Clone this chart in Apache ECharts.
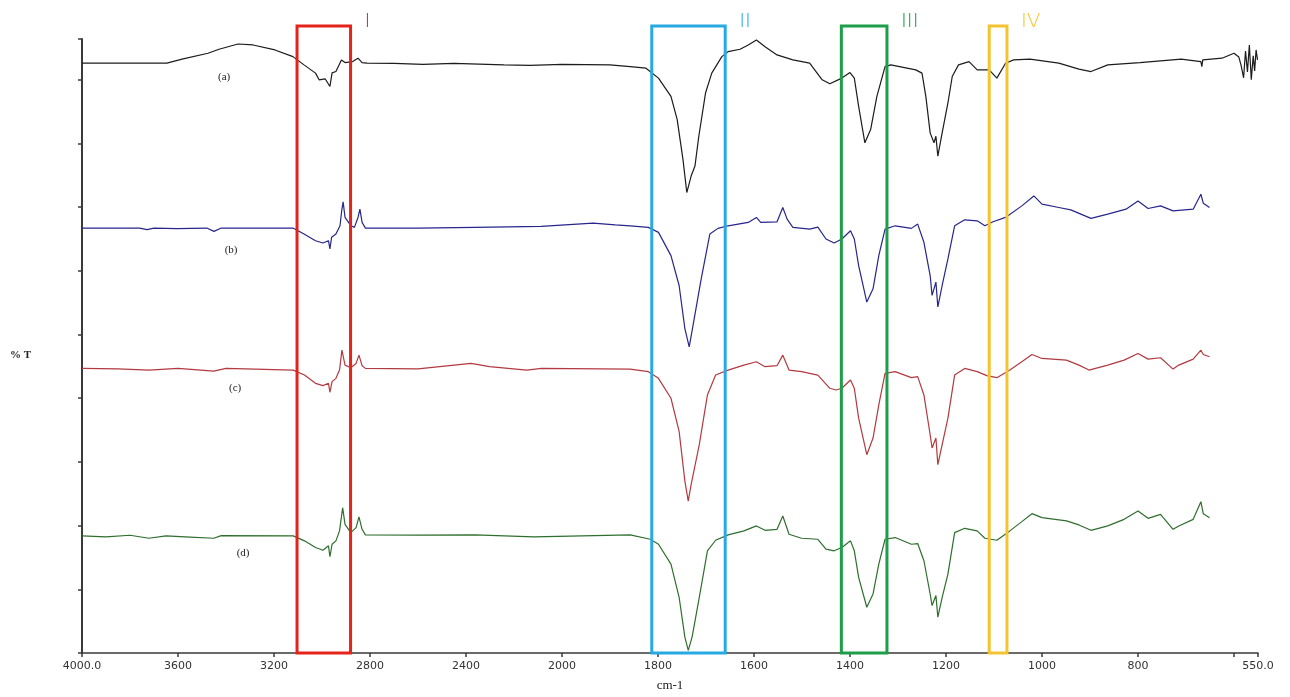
<!DOCTYPE html>
<html>
<head>
<meta charset="utf-8">
<script src="https://cdn.jsdelivr.net/npm/echarts@6/dist/echarts.min.js"></script>
<style>
html,body{margin:0;padding:0;background:#fff;}
#c{width:1290px;height:697px;}
</style>
</head>
<body>
<div id="c"></div>
<script>
// ---- data: [wavenumber (cm-1), %T (arbitrary offset units)] ----
const specA = [[4000,592.7],[3646,592.7],[3583,596.7],[3475,602.7],[3429,606.7],[3350,612],[3287,611],[3196,606],[3121,599.3],[3075,591],[3027,582.7],[3012,576],[2987,577],[2967,569.3],[2958,583],[2942,584.3],[2919,596],[2904,593.3],[2872,594.3],[2850,597.7],[2833,593.3],[2812,592.7],[2700,592.5],[2579,591.5],[2450,592.5],[2242,591],[2133,590.5],[2000,591.5],[1900,591],[1858,589.3],[1825,587.7],[1799,577.7],[1773,559.3],[1760,536],[1748,496],[1740,462.7],[1731,479.3],[1723,489.3],[1715,519.3],[1701,562.7],[1688,582.7],[1667,599.3],[1654,604.3],[1629,606.7],[1612,611],[1595,616],[1577,609.3],[1552,601],[1519,596],[1484,592.7],[1458,576],[1442,572],[1417,577.7],[1400,583.3],[1391,577.7],[1382,549.3],[1369,512.7],[1357,526],[1344,559.3],[1327,589.3],[1315,591],[1263,586],[1250,582.7],[1242,559.3],[1233,522.7],[1225,512.7],[1221,519.3],[1217,499.3],[1208,522.7],[1196,552.7],[1187,579.3],[1174,591],[1152,594.3],[1135,586],[1110,586],[1094,577.7],[1076,592.7],[1059,596],[1025,596.7],[965,592.7],[923,586.7],[898,584.3],[863,591],[796,593.3],[710,596.7],[669,594.3],[667,589.3],[665,596],[625,597.7],[600,602.7],[590,599],[585,590],[580,578],[576,605],[572,584],[568,611],[564,576],[560,600],[557,585],[554,606],[551,596]];
const specB = [[4000,427],[3760,427],[3729,425.5],[3700,427],[3604,426.5],[3480,427],[3450,423.7],[3420,427],[3121,427],[3075,421],[3027,414.3],[2996,412],[2973,414.3],[2967,406],[2960,417.7],[2942,421],[2925,429.3],[2918,444.3],[2912,453.3],[2904,437.7],[2879,429.3],[2865,427.7],[2850,437.7],[2842,446],[2833,432.7],[2819,427],[2600,427],[2362,427.7],[2087,428.7],[1935,432],[1889,430.3],[1858,429.3],[1820,427.7],[1799,422.7],[1773,399.3],[1756,369.3],[1744,326],[1735,307.7],[1727,329.3],[1710,376],[1692,421],[1675,426.7],[1654,429.3],[1612,432.7],[1595,437.7],[1586,432.7],[1552,433.3],[1540,447.7],[1531,436],[1519,427.7],[1484,426],[1467,428],[1450,416],[1433,412],[1417,416],[1399,424.3],[1391,416],[1382,389.3],[1365,352.7],[1352,366],[1340,399.3],[1327,426],[1306,429.3],[1272,426.7],[1259,431],[1246,412.7],[1233,379.3],[1229,359.3],[1221,372.7],[1217,347.7],[1208,369.3],[1196,396],[1182,429.3],[1161,435.3],[1135,434.3],[1119,429.3],[1102,433.3],[1076,437.7],[1042,449.3],[1017,459.3],[1000,451],[965,447.7],[940,445.3],[898,436.7],[863,441],[825,446],[800,454.3],[779,446.7],[753,449.3],[727,444.3],[685,446],[669,461],[664,452],[651,447.7]];
const specC = [[4000,286],[3850,285.5],[3721,284.3],[3600,286],[3451,283.3],[3400,286],[3120,284.3],[3073,279.3],[3027,271],[2996,268.7],[2973,271],[2967,262],[2958,272.7],[2942,276],[2927,284.3],[2917,304.3],[2904,289.3],[2880,286.7],[2858,291],[2846,299.3],[2833,288.7],[2819,286],[2600,285.5],[2379,291],[2302,287.7],[2147,284.3],[2085,286],[1858,285.3],[1820,282.7],[1799,276],[1773,256],[1756,222.7],[1744,172.7],[1737,152.7],[1731,169.3],[1714,209.3],[1697,259.3],[1680,279.3],[1654,284.3],[1621,289.3],[1595,292.7],[1577,287.7],[1552,288.7],[1540,299.3],[1527,284.3],[1501,282.7],[1467,279.3],[1442,266],[1429,264.3],[1417,266],[1399,274.3],[1391,266],[1382,236],[1365,199.3],[1352,216],[1340,249.3],[1327,281],[1306,282.7],[1272,276.7],[1259,277.7],[1246,259.3],[1233,219.3],[1229,206],[1221,216],[1217,189.3],[1208,209.3],[1196,236],[1182,279.3],[1161,286],[1135,282.7],[1115,278.7],[1094,276.7],[1067,284.3],[1042,292.7],[1021,300],[1000,296],[949,294.3],[923,289.3],[902,284.3],[863,289.3],[829,294.3],[800,301],[779,295.3],[753,296.7],[727,285.3],[715,289.3],[685,295.3],[669,304.3],[664,300],[651,297.7]];
const specD = [[4000,117.7],[3900,116.7],[3800,118.3],[3721,115.3],[3650,117.7],[3550,116.5],[3451,115.3],[3420,118],[3120,117.7],[3073,112.7],[3027,106],[2996,103.3],[2973,107.7],[2967,96.7],[2958,109.3],[2942,112.7],[2927,122.7],[2914,146],[2904,129.3],[2880,121],[2858,126],[2846,136.7],[2833,124.3],[2819,118.7],[2600,118.5],[2362,118.7],[2117,116.7],[1858,118.7],[1816,114.3],[1799,109.3],[1773,89.3],[1756,56],[1744,16],[1737,2.7],[1729,16],[1714,56],[1697,102.7],[1680,113.3],[1654,118.7],[1621,122.7],[1595,127.7],[1577,123.3],[1552,124.3],[1540,137.7],[1527,119.3],[1501,115.3],[1467,114.3],[1450,104.3],[1433,102.7],[1417,106],[1399,112.7],[1391,102.7],[1382,76],[1365,46],[1352,59.3],[1340,89.3],[1327,114.3],[1306,116],[1272,109.3],[1259,110],[1246,92.7],[1233,59.3],[1229,47.7],[1221,57.7],[1217,36],[1208,56],[1196,79.3],[1182,121],[1161,125.3],[1135,122.7],[1119,115.3],[1094,113.3],[1067,122.7],[1042,132],[1021,140],[1000,136],[949,132.7],[923,128.7],[898,123.3],[863,127.7],[829,134.3],[800,142.7],[779,135.3],[753,139.3],[727,124.3],[715,127.7],[685,134.3],[669,152],[664,140],[651,136]];

const seriesNames = ['(a)', '(b)', '(c)', '(d)'];
const seriesColors = ['#1c1c1c', '#26268c', '#b23a40', '#2f6e2f'];
// label anchors [wavenumber, value]
const labelAnchors = [[3408, 579], [3379, 405], [3362, 266], [3329, 100]];

const xTicks = [4000, 3600, 3200, 2800, 2400, 2000, 1800, 1600, 1400, 1200, 1000, 800, 600, 550];
const xTickLabels = ['4000.0', '3600', '3200', '2800', '2400', '2000', '1800', '1600', '1400', '1200', '1000', '800', '', '550.0'];

// highlighted regions [from, to] in cm-1, value range [bottom, top]
const boxNames = ['I', 'II', 'III', 'IV'];
const boxRanges = [[3104, 2881], [1813, 1660], [1418, 1323], [1110, 1073]];
const boxColors = ['#e5231b', '#27aae1', '#1f9e4a', '#f4c430'];
const boxValueSpan = [0, 630];

// Instrument scale: 4000-2000 cm-1 compressed by 2, 2000-550 cm-1 full scale
function pos(w) { return w >= 2000 ? (4000 - w) / 2 : 1000 + (2000 - w); }

const chart = echarts.init(document.getElementById('c'), null, {renderer: 'canvas'});
const specs = [specA, specB, specC, specD];

const tickLabelMap = {};
xTicks.forEach((w, i) => { tickLabelMap[Math.round(pos(w))] = xTickLabels[i]; });

chart.setOption({
  animation: false,
  backgroundColor: '#fff',
  grid: {left: 82, right: 32, top: 39, bottom: 41, containLabel: false},
  xAxis: {
    type: 'value', min: 0, max: pos(550), interval: 200,
    name: 'cm-1', nameLocation: 'middle', nameGap: 26,
    nameTextStyle: {fontFamily: 'Liberation Serif', fontSize: 13, color: '#222'},
    axisLine: {show: true, onZero: false, lineStyle: {color: '#3a3a3a', width: 1.5}},
    axisTick: {show: true, length: 4, lineStyle: {color: '#3a3a3a', width: 1.5}},
    axisLabel: {
      show: true, interval: 0, hideOverlap: false, margin: 8,
      fontFamily: 'DejaVu Sans', fontSize: 11, color: '#333',
      formatter: v => (tickLabelMap[Math.round(v)] !== undefined ? tickLabelMap[Math.round(v)] : '')
    },
    splitLine: {show: false}
  },
  yAxis: {
    type: 'value', min: 0, max: 617, interval: 64,
    axisLine: {show: true, onZero: false, lineStyle: {color: '#3a3a3a', width: 2}},
    axisTick: {show: true, length: 4, lineStyle: {color: '#3a3a3a', width: 1.5}},
    axisLabel: {show: false},
    splitLine: {show: false}
  },
  series: specs.map((s, i) => ({
    name: seriesNames[i], type: 'line', showSymbol: false, symbol: 'none',
    data: s.map(p => [pos(p[0]), p[1]]),
    lineStyle: {color: seriesColors[i], width: 1.2},
    clip: false, z: 3
  }))
});

function drawGraphics() {
  const g = [];
  boxRanges.forEach((r, i) => {
    const p1 = chart.convertToPixel({gridIndex: 0}, [pos(r[0]), boxValueSpan[1]]);
    const p2 = chart.convertToPixel({gridIndex: 0}, [pos(r[1]), boxValueSpan[0]]);
    g.push({
      type: 'rect', z: 10,
      shape: {x: p1[0], y: p1[1], width: p2[0] - p1[0], height: p2[1] - p1[1]},
      style: {fill: 'none', stroke: boxColors[i], lineWidth: 3}
    });
    g.push({
      type: 'text', z: 10, x: p2[0] + 14, y: p1[1] - 14,
      style: {text: boxNames[i], fill: boxColors[i], font: '300 20px "DejaVu Sans"', textAlign: 'left', textVerticalAlign: 'top'}
    });
  });
  labelAnchors.forEach((a, i) => {
    const p = chart.convertToPixel({gridIndex: 0}, [pos(a[0]), a[1]]);
    g.push({
      type: 'text', z: 10, x: p[0], y: p[1],
      style: {text: seriesNames[i], fill: '#222', font: '11px "Liberation Serif"', textAlign: 'center', textVerticalAlign: 'middle'}
    });
  });
  g.push({
    type: 'text', z: 10, x: 10, y: 355,
    style: {text: '% T', fill: '#222', font: 'bold 11px "Liberation Serif"', textAlign: 'left', textVerticalAlign: 'middle'}
  });
  chart.setOption({graphic: g});
}
drawGraphics();
</script>
</body>
</html>
